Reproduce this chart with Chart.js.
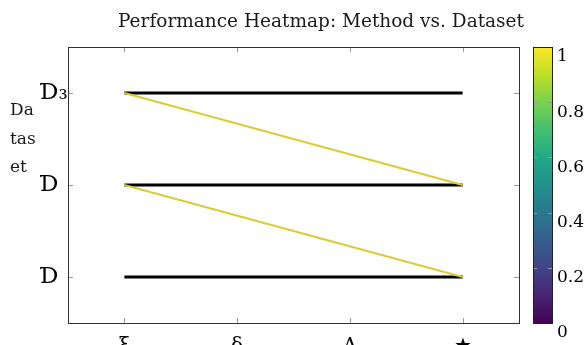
<!DOCTYPE html>
<html>
<head>
<meta charset="utf-8">
<script src="https://cdn.jsdelivr.net/npm/chart.js@4"></script>
<style>
  body { margin: 0; background: #fff; }
  #chartBox { width: 587px; height: 345px; }
</style>
</head>
<body>
<div id="chartBox"><canvas id="chart" width="587" height="345"></canvas></div>
<script>
(function () {

    'use strict';

    // grid categories
    const methodLabels = ['ξ', 'δ', 'Λ', '★'];
    const datasetLabels = ['Ɗ', 'Ɗ', 'Ɗ₃'];
    const colorbarTicks = [0, 0.2, 0.4, 0.6, 0.8, 1];
    const yTitleLines = ['Da', 'tas', 'et'];
    const chartTitle = 'Performance Heatmap: Method vs. Dataset';

    // viridis stops for the colour bar
    const viridis = ['#440154', '#482475', '#414487', '#355f8d', '#2a788e', '#21918c',
        '#22a884', '#44bf70', '#7ad151', '#bddf26', '#fde725'];

    const serif = "'DejaVu Serif', serif";
    const gap = { x: NaN, y: null };

    // rows of the grid, one after another, broken between rows
    let rowPoints = [];
    datasetLabels.forEach((d, r) => {
        methodLabels.forEach((m, c) => rowPoints.push({ x: c, y: r }));
        rowPoints.push(gap);
    });

    // the jumps from the end of one row to the start of the next
    let jumpPoints = [];
    for (let r = 0; r < datasetLabels.length - 1; r++) {
        jumpPoints.push({ x: methodLabels.length - 1, y: r });
        jumpPoints.push({ x: 0, y: r + 1 });
        jumpPoints.push(gap);
    }

    // keep the scales from reserving room for overhanging labels
    function noPad(s) {
        s.paddingTop = 0;
        s.paddingBottom = 0;
        s.paddingLeft = 0;
        s.paddingRight = 0;
    }

    // title, y title, colour bar, inward ticks and frame
    const decor = {
        id: 'decor',
        afterDraw(chart) {
            const ctx = chart.ctx;
            const area = chart.chartArea;
            const xs = chart.scales.x;
            const ys = chart.scales.y;
            const cb = chart.scales.cb;
            ctx.save();

            ctx.fillStyle = '#1a1a1a';
            ctx.font = '18.5px ' + serif;
            ctx.textAlign = 'center';
            ctx.textBaseline = 'alphabetic';
            ctx.fillText(chartTitle, 321, 27);

            ctx.font = '17px ' + serif;
            ctx.textAlign = 'left';
            yTitleLines.forEach((t, i) => ctx.fillText(t, 10, 115 + i * 28.5));

            // inward ticks
            ctx.strokeStyle = '#999';
            ctx.lineWidth = 1;
            ctx.beginPath();
            xs.ticks.forEach(t => {
                let px = Math.round(xs.getPixelForValue(t.value)) + 0.5;
                ctx.moveTo(px, area.bottom); ctx.lineTo(px, area.bottom - 5);
                ctx.moveTo(px, area.top); ctx.lineTo(px, area.top + 5);
            });
            ys.ticks.forEach(t => {
                let py = Math.round(ys.getPixelForValue(t.value)) + 0.5;
                ctx.moveTo(area.left, py); ctx.lineTo(area.left + 5, py);
                ctx.moveTo(area.right, py); ctx.lineTo(area.right - 5, py);
            });
            ctx.stroke();

            ctx.strokeStyle = '#333';
            ctx.strokeRect(Math.round(area.left) + 0.5, Math.round(area.top) + 0.5,
                Math.round(area.right - area.left), Math.round(area.bottom - area.top));

            // colour bar
            let top = cb.getPixelForValue(1);
            let bottom = cb.getPixelForValue(0);
            let left = cb.left + 14;
            let w = 19;
            let grad = ctx.createLinearGradient(0, bottom, 0, top);
            viridis.forEach((c, i) => grad.addColorStop(i / (viridis.length - 1), c));
            ctx.fillStyle = grad;
            ctx.fillRect(left, top, w, bottom - top);
            ctx.strokeStyle = '#999';
            ctx.beginPath();
            colorbarTicks.slice(1, -1).forEach(v => {
                let py = Math.round(cb.getPixelForValue(v)) + 0.5;
                ctx.moveTo(left, py); ctx.lineTo(left + 4, py);
                ctx.moveTo(left + w, py); ctx.lineTo(left + w - 4, py);
            });
            ctx.stroke();
            ctx.strokeStyle = '#222';
            ctx.strokeRect(Math.round(left) + 0.5, Math.round(top) + 0.5, w, Math.round(bottom - top));

            ctx.restore();
        }
    };

    let config = {
        type: 'line',
        data: {
            datasets: [{
                label: 'jumps',
                data: jumpPoints,
                borderColor: '#dccb35',
                borderWidth: 2,
                pointRadius: 0,
                spanGaps: false
            }, {
                label: 'rows',
                data: rowPoints,
                borderColor: '#000',
                borderWidth: 3,
                pointRadius: 0,
                spanGaps: false
            }]
        },
        options: {
            responsive: false,
            devicePixelRatio: 1,
            animation: false,
            layout: { padding: { left: 40, top: 47, right: 0, bottom: 0 } },
            plugins: {
                legend: { display: false },
                title: { display: false },
                tooltip: { enabled: false }
            },
            scales: {
                x: {
                    type: 'linear',
                    min: -0.5,
                    max: methodLabels.length - 0.5,
                    afterBuildTicks: s => { s.ticks = methodLabels.map((m, i) => ({ value: i })); },
                    afterFit: s => { s.height = 22; noPad(s); },
                    grid: { display: false, drawTicks: false },
                    border: { display: false },
                    ticks: {
                        padding: 12,
                        color: '#000',
                        font: { family: serif, size: 20 },
                        maxRotation: 0,
                        callback: v => methodLabels[v]
                    }
                },
                y: {
                    type: 'linear',
                    min: -0.5,
                    max: datasetLabels.length - 0.5,
                    afterBuildTicks: s => { s.ticks = datasetLabels.map((d, i) => ({ value: i })); },
                    afterFit: s => { s.width = 28; noPad(s); },
                    grid: { display: false, drawTicks: false },
                    border: { display: false },
                    ticks: {
                        crossAlign: 'far',
                        color: '#000',
                        font: { family: serif, size: 23 },
                        callback: v => datasetLabels[v]
                    }
                },
                cb: {
                    axis: 'y',
                    type: 'linear',
                    position: 'right',
                    min: 0,
                    max: 1,
                    afterBuildTicks: s => { s.ticks = colorbarTicks.map(v => ({ value: v })); },
                    afterFit: s => { s.width = 68; noPad(s); },
                    grid: { display: false, drawTicks: false },
                    border: { display: false },
                    ticks: {
                        padding: 38,
                        labelOffset: 10,
                        color: '#000',
                        font: { family: serif, size: 17 },
                        callback: v => String(v)
                    }
                }
            }
        },
        plugins: [decor]
    };

    new Chart(document.getElementById('chart'), config);

})();
</script>
</body>
</html>
